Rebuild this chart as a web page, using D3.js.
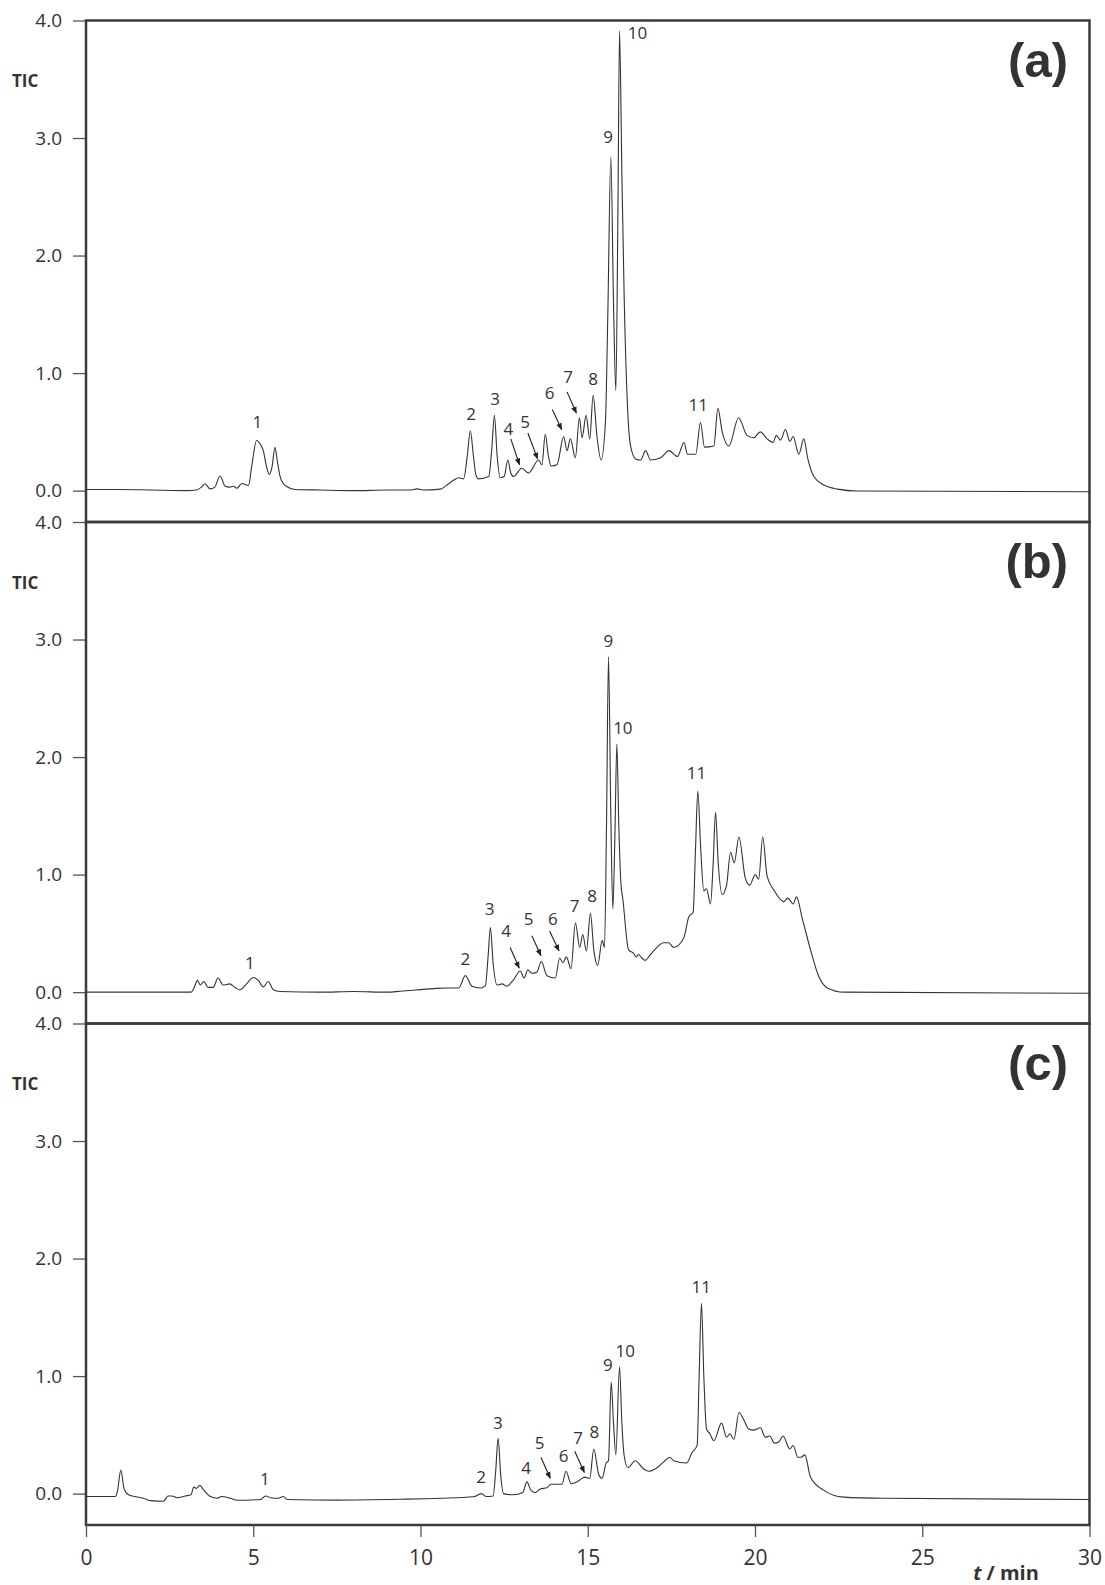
<!DOCTYPE html>
<html>
<head>
<meta charset="utf-8">
<script src="https://cdn.jsdelivr.net/npm/d3@7"></script>
<style>
body { margin: 0; background: #fff; }
text { font-family: "Open Sans", sans-serif; fill: #333; }
</style>
</head>
<body>
<svg width="1105" height="1585"></svg>
<script>
// axis ticks
var timeTicks = [0, 5, 10, 15, 20, 25, 30];
var ticTicks = [0, 1, 2, 3, 4];
var panelNames = ["(a)", "(b)", "(c)"];

// chromatograms, [t / min, TIC]
var ticA = [[0,0.01],[1,0.01],[2,0.005],[3,0.0],[3.3,0.005],[3.45,0.03],[3.56,0.058],[3.71,0.015],[3.85,0.03],[4.01,0.124],[4.16,0.037],[4.3,0.03],[4.41,0.037],[4.51,0.02],[4.66,0.06],[4.86,0.043],[4.95,0.2],[5.10,0.426],[5.22,0.39],[5.30,0.34],[5.40,0.2],[5.48,0.138],[5.56,0.2],[5.65,0.368],[5.72,0.25],[5.80,0.124],[5.9,0.06],[6.00,0.035],[6.25,0.01],[7,0.005],[8,0.0],[9,0.005],[9.7,0.005],[9.9,0.015],[10.1,0.005],[10.59,0.013],[10.8,0.05],[11.0,0.09],[11.14,0.11],[11.29,0.10],[11.4,0.3],[11.49,0.51],[11.58,0.3],[11.66,0.13],[11.74,0.10],[12.04,0.12],[12.13,0.35],[12.21,0.64],[12.29,0.3],[12.38,0.11],[12.5,0.12],[12.61,0.26],[12.7,0.15],[12.78,0.12],[13.03,0.19],[13.23,0.15],[13.53,0.26],[13.63,0.22],[13.73,0.48],[13.82,0.3],[13.9,0.21],[14.08,0.22],[14.28,0.46],[14.38,0.34],[14.48,0.44],[14.63,0.28],[14.75,0.62],[14.83,0.45],[14.95,0.64],[15.06,0.44],[15.16,0.81],[15.28,0.45],[15.40,0.26],[15.53,0.59],[15.6,1.5],[15.69,2.84],[15.77,1.6],[15.84,0.85],[15.9,2.3],[15.95,3.91],[16.02,2.7],[16.09,1.63],[16.18,0.77],[16.28,0.38],[16.43,0.27],[16.58,0.26],[16.73,0.34],[16.88,0.26],[17.18,0.28],[17.43,0.34],[17.68,0.29],[17.88,0.41],[17.98,0.31],[18.23,0.31],[18.37,0.58],[18.49,0.37],[18.77,0.38],[18.89,0.70],[19.02,0.50],[19.22,0.38],[19.51,0.62],[19.76,0.47],[19.96,0.45],[20.16,0.50],[20.36,0.44],[20.54,0.41],[20.64,0.47],[20.76,0.43],[20.91,0.52],[21.04,0.42],[21.14,0.46],[21.31,0.31],[21.46,0.44],[21.58,0.27],[21.76,0.12],[22.06,0.047],[22.46,0.013],[23.06,-0.003],[30,-0.01]];

var ticB = [[0,0.0],[1,0.0],[2,0.0],[3.15,0.0],[3.25,0.05],[3.33,0.10],[3.42,0.06],[3.52,0.09],[3.65,0.04],[3.8,0.04],[3.95,0.12],[4.1,0.06],[4.3,0.07],[4.45,0.04],[4.6,0.02],[4.8,0.07],[5.0,0.125],[5.15,0.10],[5.3,0.045],[5.45,0.09],[5.6,0.02],[5.8,0.005],[7,0.0],[8,0.005],[9,0.0],[9.39,0.007],[10.39,0.03],[10.79,0.035],[11.14,0.035],[11.34,0.14],[11.54,0.05],[11.79,0.035],[11.94,0.055],[12.02,0.3],[12.09,0.55],[12.17,0.25],[12.29,0.06],[12.44,0.07],[12.58,0.05],[12.78,0.105],[12.98,0.18],[13.10,0.12],[13.21,0.19],[13.33,0.16],[13.48,0.17],[13.61,0.26],[13.78,0.14],[14.03,0.12],[14.16,0.29],[14.26,0.25],[14.36,0.30],[14.50,0.20],[14.63,0.59],[14.76,0.38],[14.85,0.49],[14.96,0.35],[15.08,0.67],[15.18,0.36],[15.30,0.23],[15.43,0.44],[15.50,0.38],[15.56,1.4],[15.62,2.85],[15.69,1.5],[15.75,0.71],[15.81,1.3],[15.87,2.11],[15.93,1.4],[15.99,0.93],[16.05,0.79],[16.22,0.36],[16.37,0.33],[16.45,0.30],[16.52,0.32],[16.62,0.29],[16.72,0.27],[16.85,0.31],[16.97,0.35],[17.27,0.42],[17.42,0.42],[17.57,0.38],[17.87,0.46],[18.02,0.64],[18.15,0.68],[18.22,1.2],[18.29,1.71],[18.38,1.2],[18.47,0.86],[18.55,0.88],[18.67,0.75],[18.75,1.1],[18.82,1.53],[18.9,1.1],[19.02,0.83],[19.15,0.91],[19.27,1.19],[19.38,1.10],[19.52,1.32],[19.71,0.97],[19.84,0.91],[20.01,1.00],[20.11,0.96],[20.23,1.32],[20.36,0.99],[20.56,0.87],[20.86,0.77],[20.98,0.80],[21.14,0.75],[21.24,0.81],[21.41,0.63],[21.66,0.36],[21.91,0.13],[22.16,0.036],[22.66,0.0],[30,-0.01]];

var ticC = [[0,-0.025],[0.87,-0.025],[0.94,0.02],[1.04,0.20],[1.14,0.04],[1.27,-0.01],[1.72,-0.04],[1.92,-0.06],[2.32,-0.065],[2.45,-0.02],[2.57,-0.02],[2.72,-0.035],[2.97,-0.02],[3.14,-0.01],[3.22,0.055],[3.30,0.045],[3.40,0.07],[3.52,0.03],[3.72,-0.025],[3.92,-0.04],[4.04,-0.025],[4.32,-0.04],[4.52,-0.057],[5.22,-0.05],[5.37,-0.02],[5.52,-0.035],[5.72,-0.04],[5.90,-0.025],[6.02,-0.05],[7.5,-0.055],[9.39,-0.048],[10.59,-0.04],[11.59,-0.027],[11.82,0.0],[11.97,-0.025],[12.17,-0.02],[12.25,0.2],[12.32,0.47],[12.4,0.15],[12.48,0.0],[12.78,-0.01],[13.06,0.01],[13.18,0.10],[13.30,0.03],[13.43,0.01],[13.58,0.04],[13.78,0.05],[13.90,0.08],[14.03,0.08],[14.23,0.08],[14.35,0.19],[14.50,0.085],[14.68,0.10],[14.91,0.14],[15.06,0.13],[15.18,0.38],[15.33,0.16],[15.43,0.13],[15.55,0.26],[15.62,0.28],[15.70,0.95],[15.77,0.6],[15.84,0.33],[15.95,1.08],[16.02,0.6],[16.09,0.32],[16.20,0.22],[16.42,0.28],[16.67,0.21],[16.82,0.19],[17.07,0.22],[17.27,0.27],[17.45,0.31],[17.57,0.28],[17.95,0.26],[18.12,0.35],[18.27,0.41],[18.33,1.0],[18.40,1.62],[18.47,1.0],[18.55,0.55],[18.65,0.51],[18.77,0.45],[19.0,0.60],[19.15,0.48],[19.25,0.51],[19.37,0.46],[19.52,0.69],[19.66,0.63],[19.81,0.55],[19.96,0.54],[20.16,0.56],[20.31,0.48],[20.44,0.49],[20.58,0.43],[20.71,0.44],[20.84,0.49],[21.04,0.38],[21.14,0.41],[21.28,0.31],[21.38,0.31],[21.49,0.33],[21.66,0.14],[22.05,0.03],[22.65,-0.03],[23.85,-0.04],[30,-0.05]];

// peak numbers, [label, t, TIC]
var peaksA = [["1",5.12,0.58],["2",11.51,0.65],["3",12.23,0.78],["4",12.63,0.52],["5",13.13,0.58],["6",13.86,0.83],["7",14.41,0.97],["8",15.16,0.95],["9",15.61,3.01],["10",16.49,3.89],["11",18.30,0.73]];
var peaksB = [["1",4.90,0.25],["2",11.34,0.28],["3",12.07,0.71],["4",12.56,0.52],["5",13.23,0.62],["6",13.96,0.62],["7",14.61,0.73],["8",15.13,0.82],["9",15.62,2.99],["10",16.05,2.25],["11",18.25,1.86]];
var peaksC = [["1",5.35,0.12],["2",11.81,0.14],["3",12.31,0.60],["4",13.16,0.22],["5",13.56,0.43],["6",14.28,0.32],["7",14.71,0.47],["8",15.20,0.52],["9",15.60,1.09],["10",16.12,1.21],["11",18.39,1.76]];

// arrows, [t0, TIC0, t1, TIC1]
var arrowsA = [[12.70,0.44,12.96,0.22],[13.21,0.49,13.50,0.27],[13.94,0.69,14.22,0.52],[14.38,0.84,14.66,0.66]];
var arrowsB = [[12.68,0.38,12.95,0.205],[13.33,0.48,13.60,0.31],[13.86,0.52,14.14,0.35]];
var arrowsC = [[13.60,0.31,13.88,0.13],[14.61,0.36,14.90,0.18]];

var panels = [
    {name: panelNames[0], data: ticA, peaks: peaksA, arrows: arrowsA},
    {name: panelNames[1], data: ticB, peaks: peaksB, arrows: arrowsB},
    {name: panelNames[2], data: ticC, peaks: peaksC, arrows: arrowsC}
];

var svg = d3.select("svg");
var left = 86, right = 1089.5, top0 = 20.5, panelH = 501.5;

svg.append("defs").append("marker")
    .attr("id", "head")
    .attr("viewBox", "0 0 10 10")
    .attr("refX", 9).attr("refY", 5)
    .attr("markerWidth", 7).attr("markerHeight", 7)
    .attr("markerUnits", "userSpaceOnUse")
    .attr("orient", "auto")
    .append("path")
    .attr("d", "M0,1 L10,5 L0,9 Z")
    .attr("fill", "#222");

var x = d3.scaleLinear().domain([0, 30]).range([left, right]);

panels.forEach(function(p, i) {
    var top = top0 + i * panelH;
    var y = d3.scaleLinear().domain([-0.267, 4]).range([top + panelH, top]);
    var g = svg.append("g");

    var line = d3.line()
        .x(function(d) { return x(d[0]); })
        .y(function(d) { return y(d[1]); })
        .curve(d3.curveMonotoneX);

    g.append("path")
        .datum(p.data)
        .attr("d", line)
        .attr("fill", "none")
        .attr("stroke", "#333")
        .attr("stroke-width", 1.1);

    // y axis
    var yAxis = g.append("g")
        .attr("transform", "translate(" + left + ",0)")
        .call(d3.axisLeft(y).tickValues(ticTicks).tickFormat(d3.format(".1f"))
            .tickSize(13).tickPadding(11));
    yAxis.select(".domain").remove();
    yAxis.selectAll("line").attr("stroke", "#555").attr("stroke-width", 1.3);
    yAxis.selectAll("text").attr("font-size", 19).attr("font-family", "Open Sans").attr("fill", "#333");

    g.append("text")
        .attr("x", 12).attr("y", top + 66.5)
        .attr("font-size", 17).attr("font-weight", "bold")
        .text("TIC");

    // frame
    g.append("rect")
        .attr("x", left).attr("y", top)
        .attr("width", right - left).attr("height", panelH)
        .attr("fill", "none")
        .attr("stroke", "#3a3a3a")
        .attr("stroke-width", 2.5);

    g.append("text")
        .attr("x", 1068).attr("y", top + 56)
        .attr("text-anchor", "end")
        .attr("font-size", 49).attr("font-weight", "bold")
        .style("font-family", "'Liberation Sans', Arial, sans-serif")
        .attr("fill", "#2a2a2a")
        .text(p.name);

    // peak numbers
    g.selectAll(".pk")
        .data(p.peaks)
        .enter()
        .append("text")
        .attr("x", function(d) { return x(d[1]); })
        .attr("y", function(d) { return y(d[2]); })
        .attr("dy", "0.35em")
        .attr("text-anchor", "middle")
        .attr("font-size", 17)
        .text(function(d) { return d[0]; });

    g.selectAll(".arr")
        .data(p.arrows)
        .enter()
        .append("line")
        .attr("x1", function(d) { return x(d[0]); })
        .attr("y1", function(d) { return y(d[1]); })
        .attr("x2", function(d) { return x(d[2]); })
        .attr("y2", function(d) { return y(d[3]); })
        .attr("stroke", "#222")
        .attr("stroke-width", 1.1)
        .attr("marker-end", "url(#head)");
});

// time axis
var bottom = top0 + 3 * panelH;
var xAxis = svg.append("g")
    .attr("transform", "translate(0," + bottom + ")")
    .call(d3.axisBottom(x).tickValues(timeTicks).tickSize(12).tickPadding(13));
xAxis.select(".domain").remove();
xAxis.selectAll("line").attr("stroke", "#555").attr("stroke-width", 1.3);
xAxis.selectAll("text").attr("font-size", 21).attr("font-family", "Open Sans").attr("fill", "#333");

var lab = svg.append("text")
    .attr("x", 1006).attr("y", 1580)
    .attr("text-anchor", "middle")
    .attr("font-size", 20).attr("font-weight", "bold");
lab.append("tspan").attr("font-style", "italic").text("t");
lab.append("tspan").text(" / min");
</script>
</body>
</html>
